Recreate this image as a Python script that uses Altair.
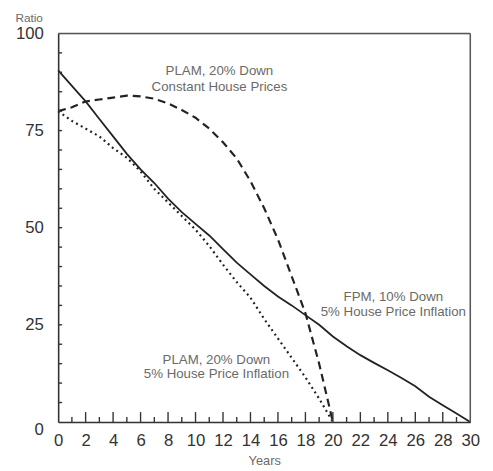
import altair as alt
import pandas as pd

# Years and series values
years_fpm = list(range(0, 31))
fpm_10_down_inflation = [90.5, 86.5, 82.5, 78, 73.5, 69, 65, 61.5, 57.5, 54, 51, 48, 44.5, 41, 38,
                         35, 32.3, 30, 27.5, 25, 22, 19.5, 17.2, 15.2, 13.3, 11.3, 9.2, 6.5, 4.3, 2.2, 0]

years_plam = list(range(0, 21))
plam_20_down_constant = [80, 81, 82.5, 83, 83.5, 84, 83.8, 83.2, 82, 80.3, 78.3, 75.5, 72, 67.8, 62,
                         55, 47, 37.5, 28, 15, 0]
plam_20_down_inflation = [80, 77.5, 75.5, 73.5, 70.5, 68, 64.5, 60, 56.5, 53, 49.5, 45.3, 40.5, 36, 32,
                          26.5, 21.5, 16.5, 11.5, 6, 0]

x_label_values = list(range(0, 31, 2))
y_label_values = [0, 25, 50, 75, 100]
x_major_ticks = list(range(2, 30, 2))
x_minor_ticks = list(range(1, 30, 2))
y_minor_ticks = list(range(5, 100, 5))

W, H = 419, 395
FONT = "Liberation Sans"
INK = "#222222"
TXT = "#6a6a6a"

xs = alt.Scale(domain=[0, 30], nice=False)
ys = alt.Scale(domain=[0, 100], nice=False)

df_fpm = pd.DataFrame({"year": years_fpm, "ratio": fpm_10_down_inflation})
df_const = pd.DataFrame({"year": years_plam, "ratio": plam_20_down_constant})
df_infl = pd.DataFrame({"year": years_plam, "ratio": plam_20_down_inflation})

x_axis = alt.Axis(values=x_label_values, tickSize=0, labelPadding=11, labelFontSize=17,
                  labelFont=FONT, labelColor="#333333", domainColor="#333333", domainWidth=1.6,
                  grid=False, title="Years", titleFont=FONT, titleFontSize=13,
                  titleFontWeight="normal", titleColor=TXT, titleY=39, titleBaseline="middle",
                  labelFlush=False, labelOverlap=False)
y_axis = alt.Axis(values=y_label_values, tickSize=0, labelPadding=15, labelFontSize=17,
                  labelFont=FONT, labelColor="#333333", domainColor="#333333", domainWidth=1.6,
                  grid=False, labelAlign="right", labelBaseline="middle", labelOverlap=False,
                  labelOffset={"condition": {"test": "datum.value === 0", "value": 8}, "value": 0},
                  title="Ratio", titleAngle=0, titleAlign="left", titleBaseline="middle",
                  titleX=-44, titleY=-16, titleFont=FONT, titleFontSize=12,
                  titleFontWeight="normal", titleColor=TXT)

X = alt.X("year:Q", scale=xs, axis=x_axis)
Y = alt.Y("ratio:Q", scale=ys, axis=y_axis)

base_fpm = alt.Chart(df_fpm).mark_line(color=INK, strokeWidth=1.8).encode(x=X, y=Y)
line_const = alt.Chart(df_const).mark_line(color=INK, strokeWidth=2.2, strokeDash=[8, 5]).encode(x=X, y=Y)
line_infl = alt.Chart(df_infl).mark_line(color=INK, strokeWidth=2.2, strokeDash=[2, 3.5]).encode(x=X, y=Y)

# inward ticks
xt_major = alt.Chart(pd.DataFrame({"year": x_major_ticks})).mark_rule(color="#333333", strokeWidth=1.4).encode(
    x=X, y=alt.value(H), y2=alt.value(H - 10))
xt_minor = alt.Chart(pd.DataFrame({"year": x_minor_ticks})).mark_rule(color="#333333", strokeWidth=1.4).encode(
    x=X, y=alt.value(H), y2=alt.value(H - 5))
yt_minor = alt.Chart(pd.DataFrame({"ratio": y_minor_ticks})).mark_rule(color="#333333", strokeWidth=1.4).encode(
    y=Y, x=alt.value(0), x2=alt.value(4))

# frame (top and right)
frame_top = alt.Chart(pd.DataFrame({"t": [0]})).mark_rule(color="#555555", strokeWidth=1.5).encode(
    x=alt.value(0), x2=alt.value(W), y=alt.value(0))
frame_right = alt.Chart(pd.DataFrame({"t": [0]})).mark_rule(color="#555555", strokeWidth=1.5).encode(
    x=alt.value(W), y=alt.value(0), y2=alt.value(H))


def text_at(txt, xv, yv):
    return alt.Chart(pd.DataFrame({"year": [xv], "ratio": [yv], "t": [txt]})).mark_text(
        font=FONT, fontSize=13.5, color=TXT, align="center", baseline="middle"
    ).encode(x=X, y=Y, text="t:N")


notes = [
    text_at("PLAM, 20% Down", 11.74, 90.4),
    text_at("Constant House Prices", 11.74, 86.1),
    text_at("FPM, 10% Down", 24.4, 32.2),
    text_at("5% House Price Inflation", 24.4, 28.4),
    text_at("PLAM, 20% Down", 11.52, 15.9),
    text_at("5% House Price Inflation", 11.52, 12.2),
]

chart = alt.layer(base_fpm, line_const, line_infl, xt_major, xt_minor, yt_minor,
                  frame_top, frame_right, *notes).properties(
    width=W, height=H,
    autosize=alt.AutoSizeParams(type="none"),
    padding={"left": 51, "top": 22, "right": 15, "bottom": 46},
).configure_view(stroke="#555555", strokeWidth=1.5).configure_axis(
    labelOverlap=False
).configure(background="white")

chart.save("out.html", embed_options={"renderer": "svg", "actions": False})
